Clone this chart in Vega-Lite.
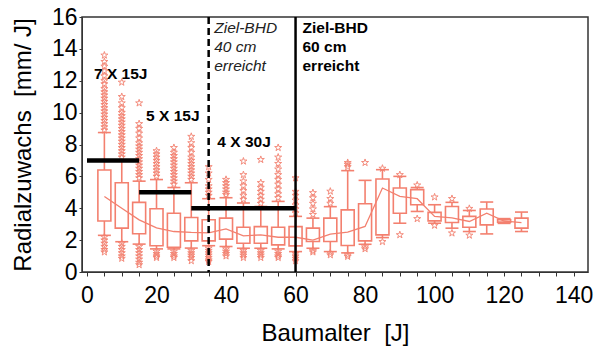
{
  "$schema": "https://vega.github.io/schema/vega-lite/v6.json",
  "width": 506,
  "height": 255,
  "autosize": {"type": "none"},
  "padding": {"left": 82, "top": 17, "right": 12, "bottom": 91},
  "background": "white",
  "config": {
    "font": "Liberation Sans",
    "view": {"stroke": "#333333", "strokeWidth": 1.5},
    "axis": {"grid": false, "domainColor": "#333333", "tickColor": "#333333", "labelColor": "black", "titleColor": "black", "labelFont": "Liberation Sans", "titleFont": "Liberation Sans", "labelFontWeight": "normal", "titleFontWeight": "normal"},
    "axisY": {
      "values": [0,1,2,3,4,5,6,7,8,9,10,11,12,13,14,15,16],
      "labelExpr": "datum.value % 2 === 0 ? datum.label : ''",
      "labelFontSize": 23, "labelPadding": 2, "tickSize": 3, "labelOverlap": false, "labelFlush": false,
      "titleFontSize": 24, "titlePadding": 16
    }
  },
  "datasets": {
    "boxes": [
      {"x": 5, "lo": 2.3, "q1": 3.2, "med": 4.74, "q3": 6.4, "hi": 8.75},
      {"x": 10, "lo": 1.9, "q1": 2.75, "med": 4.0, "q3": 5.6, "hi": 7.0},
      {"x": 15, "lo": 1.75, "q1": 2.4, "med": 3.27, "q3": 4.37, "hi": 5.7},
      {"x": 20, "lo": 1.45, "q1": 1.65, "med": 2.77, "q3": 3.97, "hi": 5.8},
      {"x": 25, "lo": 1.45, "q1": 1.55, "med": 2.54, "q3": 3.69, "hi": 5.3},
      {"x": 30, "lo": 1.5, "q1": 1.95, "med": 2.48, "q3": 3.42, "hi": 5.6},
      {"x": 35, "lo": 1.65, "q1": 1.95, "med": 2.45, "q3": 3.28, "hi": 4.6},
      {"x": 40, "lo": 1.6, "q1": 2.06, "med": 2.7, "q3": 3.38, "hi": 4.66},
      {"x": 45, "lo": 1.49, "q1": 1.8, "med": 2.27, "q3": 2.81, "hi": 4.33},
      {"x": 50, "lo": 1.49, "q1": 1.8, "med": 2.33, "q3": 2.85, "hi": 4.11},
      {"x": 55, "lo": 1.45, "q1": 1.7, "med": 2.18, "q3": 2.81, "hi": 4.43},
      {"x": 60, "lo": 1.28, "q1": 1.64, "med": 2.18, "q3": 2.85, "hi": 3.49},
      {"x": 65, "lo": 1.49, "q1": 1.91, "med": 2.0, "q3": 2.75, "hi": 3.38},
      {"x": 70, "lo": 1.28, "q1": 1.91, "med": 2.37, "q3": 3.38, "hi": 4.1},
      {"x": 75, "lo": 1.2, "q1": 1.66, "med": 2.5, "q3": 3.9, "hi": 6.36},
      {"x": 80, "lo": 1.74, "q1": 1.95, "med": 2.86, "q3": 4.28, "hi": 5.75},
      {"x": 85, "lo": 2.16, "q1": 2.33, "med": 5.27, "q3": 5.84, "hi": 6.42},
      {"x": 90, "lo": 3.06, "q1": 3.69, "med": 4.74, "q3": 5.27, "hi": 6.0},
      {"x": 95, "lo": 3.8, "q1": 4.22, "med": 4.6, "q3": 5.17, "hi": 5.3},
      {"x": 100, "lo": 3.06, "q1": 3.21, "med": 3.49, "q3": 3.74, "hi": 4.22},
      {"x": 105, "lo": 2.75, "q1": 3.11, "med": 3.4, "q3": 4.11, "hi": 4.37},
      {"x": 110, "lo": 2.54, "q1": 2.81, "med": 3.17, "q3": 3.49, "hi": 3.86},
      {"x": 115, "lo": 2.39, "q1": 2.96, "med": 3.69, "q3": 3.95, "hi": 4.39},
      {"x": 120, "lo": 3.05, "q1": 3.13, "med": 3.2, "q3": 3.28, "hi": 3.35},
      {"x": 125, "lo": 2.54, "q1": 2.75, "med": 3.1, "q3": 3.38, "hi": 3.76}
    ],
    "outliers": [
      {"x": 5, "y": 8.9}, {"x": 5, "y": 9.1}, {"x": 5, "y": 9.3}, {"x": 5, "y": 9.5}, {"x": 5, "y": 9.7}, {"x": 5, "y": 9.9}, {"x": 5, "y": 10.1}, {"x": 5, "y": 10.3}, {"x": 5, "y": 10.5}, {"x": 5, "y": 10.7}, {"x": 5, "y": 10.9}, {"x": 5, "y": 11.1}, {"x": 5, "y": 11.3}, {"x": 5, "y": 11.5}, {"x": 5, "y": 11.8}, {"x": 5, "y": 12.0}, {"x": 5, "y": 12.3}, {"x": 5, "y": 12.6}, {"x": 5, "y": 12.9}, {"x": 5, "y": 13.2}, {"x": 5, "y": 13.6},
      {"x": 5, "y": 2.2}, {"x": 5, "y": 2.0}, {"x": 5, "y": 1.8}, {"x": 5, "y": 1.6}, {"x": 5, "y": 1.4}, {"x": 5, "y": 1.25},
      {"x": 10, "y": 7.2}, {"x": 10, "y": 7.4}, {"x": 10, "y": 7.6}, {"x": 10, "y": 7.8}, {"x": 10, "y": 8.0}, {"x": 10, "y": 8.2}, {"x": 10, "y": 8.4}, {"x": 10, "y": 8.6}, {"x": 10, "y": 8.8}, {"x": 10, "y": 9.0}, {"x": 10, "y": 9.2}, {"x": 10, "y": 9.4}, {"x": 10, "y": 9.6}, {"x": 10, "y": 9.8}, {"x": 10, "y": 10.0}, {"x": 10, "y": 10.3}, {"x": 10, "y": 10.6}, {"x": 10, "y": 11.0}, {"x": 10, "y": 11.9},
      {"x": 10, "y": 1.8}, {"x": 10, "y": 1.6}, {"x": 10, "y": 1.4}, {"x": 10, "y": 1.2}, {"x": 10, "y": 1.0}, {"x": 10, "y": 0.85},
      {"x": 15, "y": 5.9}, {"x": 15, "y": 6.1}, {"x": 15, "y": 6.3}, {"x": 15, "y": 6.5}, {"x": 15, "y": 6.7}, {"x": 15, "y": 6.9}, {"x": 15, "y": 7.1}, {"x": 15, "y": 7.3}, {"x": 15, "y": 7.5}, {"x": 15, "y": 7.7}, {"x": 15, "y": 7.9}, {"x": 15, "y": 8.1}, {"x": 15, "y": 8.4}, {"x": 15, "y": 8.7}, {"x": 15, "y": 9.0}, {"x": 15, "y": 9.3}, {"x": 15, "y": 10.6},
      {"x": 15, "y": 1.6}, {"x": 15, "y": 1.4}, {"x": 15, "y": 1.2}, {"x": 15, "y": 1.0}, {"x": 15, "y": 0.8}, {"x": 15, "y": 0.6}, {"x": 15, "y": 0.45},
      {"x": 20, "y": 6.0}, {"x": 20, "y": 6.2}, {"x": 20, "y": 6.4}, {"x": 20, "y": 6.6}, {"x": 20, "y": 6.8}, {"x": 20, "y": 7.0}, {"x": 20, "y": 7.2}, {"x": 20, "y": 7.4}, {"x": 20, "y": 7.6},
      {"x": 20, "y": 1.3}, {"x": 20, "y": 1.15}, {"x": 20, "y": 1.0}, {"x": 20, "y": 0.9},
      {"x": 25, "y": 5.5}, {"x": 25, "y": 5.7}, {"x": 25, "y": 5.9}, {"x": 25, "y": 6.1}, {"x": 25, "y": 6.3}, {"x": 25, "y": 6.5}, {"x": 25, "y": 6.7}, {"x": 25, "y": 6.9}, {"x": 25, "y": 7.1}, {"x": 25, "y": 7.3}, {"x": 25, "y": 7.5}, {"x": 25, "y": 7.8},
      {"x": 25, "y": 1.3}, {"x": 25, "y": 1.15}, {"x": 25, "y": 1.0}, {"x": 25, "y": 0.9},
      {"x": 30, "y": 5.8}, {"x": 30, "y": 6.0}, {"x": 30, "y": 6.2}, {"x": 30, "y": 6.4}, {"x": 30, "y": 6.6}, {"x": 30, "y": 6.8}, {"x": 30, "y": 7.0}, {"x": 30, "y": 7.2}, {"x": 30, "y": 7.5}, {"x": 30, "y": 7.8}, {"x": 30, "y": 8.1}, {"x": 30, "y": 8.5},
      {"x": 30, "y": 1.35}, {"x": 30, "y": 1.2}, {"x": 30, "y": 1.05}, {"x": 30, "y": 0.9}, {"x": 30, "y": 0.7},
      {"x": 35, "y": 4.8}, {"x": 35, "y": 5.0}, {"x": 35, "y": 5.2}, {"x": 35, "y": 5.4}, {"x": 35, "y": 5.8}, {"x": 35, "y": 6.2}, {"x": 35, "y": 6.6},
      {"x": 35, "y": 1.5}, {"x": 35, "y": 1.35}, {"x": 35, "y": 1.2}, {"x": 35, "y": 1.05}, {"x": 35, "y": 0.9}, {"x": 35, "y": 0.75}, {"x": 35, "y": 0.65},
      {"x": 40, "y": 4.85}, {"x": 40, "y": 5.0}, {"x": 40, "y": 5.2}, {"x": 40, "y": 5.4}, {"x": 40, "y": 5.6}, {"x": 40, "y": 5.8},
      {"x": 40, "y": 1.45}, {"x": 40, "y": 1.3}, {"x": 40, "y": 1.15}, {"x": 40, "y": 1.0},
      {"x": 45, "y": 4.55}, {"x": 45, "y": 4.8}, {"x": 45, "y": 5.1}, {"x": 45, "y": 5.4}, {"x": 45, "y": 5.7}, {"x": 45, "y": 6.1}, {"x": 45, "y": 6.95},
      {"x": 45, "y": 1.35}, {"x": 45, "y": 1.2}, {"x": 45, "y": 1.05}, {"x": 45, "y": 0.9},
      {"x": 50, "y": 4.3}, {"x": 50, "y": 4.55}, {"x": 50, "y": 4.8}, {"x": 50, "y": 5.05}, {"x": 50, "y": 5.3}, {"x": 50, "y": 5.6}, {"x": 50, "y": 7.05},
      {"x": 50, "y": 1.35}, {"x": 50, "y": 1.2}, {"x": 50, "y": 1.05}, {"x": 50, "y": 0.9},
      {"x": 55, "y": 4.65}, {"x": 55, "y": 4.9}, {"x": 55, "y": 5.2}, {"x": 55, "y": 5.5}, {"x": 55, "y": 5.8}, {"x": 55, "y": 6.1}, {"x": 55, "y": 6.45}, {"x": 55, "y": 6.8}, {"x": 55, "y": 7.2}, {"x": 55, "y": 7.8},
      {"x": 55, "y": 1.3}, {"x": 55, "y": 1.15}, {"x": 55, "y": 1.0}, {"x": 55, "y": 0.9},
      {"x": 60, "y": 3.7}, {"x": 60, "y": 3.95}, {"x": 60, "y": 4.2}, {"x": 60, "y": 4.5}, {"x": 60, "y": 4.8}, {"x": 60, "y": 5.05}, {"x": 60, "y": 5.9},
      {"x": 60, "y": 1.15}, {"x": 60, "y": 1.0}, {"x": 60, "y": 0.85}, {"x": 60, "y": 0.7},
      {"x": 65, "y": 3.6}, {"x": 65, "y": 3.95}, {"x": 65, "y": 4.3}, {"x": 65, "y": 4.65}, {"x": 65, "y": 4.97},
      {"x": 65, "y": 1.35}, {"x": 65, "y": 1.25},
      {"x": 70, "y": 4.3}, {"x": 70, "y": 4.6}, {"x": 70, "y": 5.06},
      {"x": 70, "y": 1.2}, {"x": 70, "y": 1.07},
      {"x": 75, "y": 6.6}, {"x": 75, "y": 6.75}, {"x": 75, "y": 6.86},
      {"x": 75, "y": 1.07}, {"x": 75, "y": 0.97},
      {"x": 80, "y": 6.86}, {"x": 80, "y": 1.57}, {"x": 80, "y": 1.45},
      {"x": 85, "y": 6.5}, {"x": 85, "y": 1.9},
      {"x": 90, "y": 6.1}, {"x": 90, "y": 2.33},
      {"x": 95, "y": 5.45}, {"x": 95, "y": 3.34},
      {"x": 100, "y": 4.7}, {"x": 100, "y": 2.92},
      {"x": 105, "y": 4.6}, {"x": 105, "y": 2.44},
      {"x": 110, "y": 3.98}, {"x": 110, "y": 2.3}
    ],
    "targets": [
      {"x": 0, "x2": 15, "y": 7},
      {"x": 15, "x2": 30, "y": 5},
      {"x": 30, "x2": 60, "y": 4}
    ],
    "boldText": [
      {"x": 2.0, "y": 12.45, "t": "7 X 15J"},
      {"x": 17.0, "y": 9.8, "t": "5 X 15J"},
      {"x": 37.5, "y": 8.15, "t": "4 X 30J"},
      {"x": 62.0, "y": 15.31, "t": "Ziel-BHD"},
      {"x": 62.0, "y": 14.11, "t": "60 cm"},
      {"x": 62.0, "y": 12.91, "t": "erreicht"}
    ],
    "italicText": [
      {"x": 36.6, "y": 15.31, "t": "Ziel-BHD"},
      {"x": 36.6, "y": 14.11, "t": "40 cm"},
      {"x": 36.6, "y": 12.91, "t": "erreicht"}
    ]
  },
  "encoding": {
    "x": {
      "field": "x", "type": "quantitative",
      "scale": {"domain": [0, 142.7], "nice": false, "zero": false},
      "axis": {
        "title": "Baumalter\u00a0 [J]", "titleFontSize": 24, "titlePadding": 14,
        "values": [0,5,10,15,20,25,30,35,40,45,50,55,60,65,70,75,80,85,90,95,100,105,110,115,120,125,130,135,140],
        "labelExpr": "datum.value % 20 === 0 ? datum.label : ''",
        "labelFontSize": 23, "labelPadding": 8, "tickSize": 4, "labelFlush": false, "labelOverlap": false
      }
    }
  },
  "layer": [
    {
      "data": {"name": "boxes"},
      "mark": {"type": "rule", "color": "#f3806f", "strokeWidth": 1.6},
      "encoding": {"y": {"field": "q3", "type": "quantitative", "title": "Radialzuwachs\u00a0 [mm/ J]", "scale": {"domain": [0, 16], "nice": false}}, "y2": {"field": "hi"}}
    },
    {
      "data": {"name": "boxes"},
      "mark": {"type": "rule", "color": "#f3806f", "strokeWidth": 1.6},
      "encoding": {"y": {"field": "lo", "type": "quantitative", "title": "Radialzuwachs\u00a0 [mm/ J]"}, "y2": {"field": "q1"}}
    },
    {
      "data": {"name": "boxes"},
      "mark": {"type": "tick", "orient": "horizontal", "color": "#f3806f", "size": 13, "thickness": 1.6, "opacity": 1},
      "encoding": {"y": {"field": "hi", "type": "quantitative", "title": "Radialzuwachs\u00a0 [mm/ J]"}}
    },
    {
      "data": {"name": "boxes"},
      "mark": {"type": "tick", "orient": "horizontal", "color": "#f3806f", "size": 13, "thickness": 1.6, "opacity": 1},
      "encoding": {"y": {"field": "lo", "type": "quantitative", "title": "Radialzuwachs\u00a0 [mm/ J]"}}
    },
    {
      "data": {"name": "boxes"},
      "mark": {"type": "bar", "size": 13, "fill": "white", "fillOpacity": 0, "stroke": "#f3806f", "strokeWidth": 1.6},
      "encoding": {"y": {"field": "q1", "type": "quantitative", "title": "Radialzuwachs\u00a0 [mm/ J]"}, "y2": {"field": "q3"}}
    },
    {
      "data": {"name": "boxes"},
      "mark": {"type": "line", "color": "#f3806f", "strokeWidth": 1.3},
      "encoding": {"y": {"field": "med", "type": "quantitative", "title": "Radialzuwachs\u00a0 [mm/ J]"}}
    },
    {
      "data": {"name": "outliers"},
      "mark": {"type": "point", "shape": "M0,-1L0.2245,-0.309L0.951,-0.309L0.363,0.118L0.588,0.809L0,0.382L-0.588,0.809L-0.363,0.118L-0.951,-0.309L-0.2245,-0.309Z", "size": 55, "filled": false, "stroke": "#f3806f", "strokeWidth": 1, "opacity": 0.9},
      "encoding": {"y": {"field": "y", "type": "quantitative", "title": "Radialzuwachs\u00a0 [mm/ J]"}}
    },
    {
      "data": {"name": "targets"},
      "mark": {"type": "rule", "color": "black", "strokeWidth": 4.5},
      "encoding": {"x2": {"field": "x2"}, "y": {"field": "y", "type": "quantitative", "title": "Radialzuwachs\u00a0 [mm/ J]"}}
    },
    {
      "data": {"values": [{"x": 35}]},
      "mark": {"type": "rule", "color": "black", "strokeWidth": 2.5, "strokeDash": [7, 4]},
      "encoding": {}
    },
    {
      "data": {"values": [{"x": 60}]},
      "mark": {"type": "rule", "color": "black", "strokeWidth": 2.5},
      "encoding": {}
    },
    {
      "data": {"name": "boldText"},
      "mark": {"type": "text", "align": "left", "baseline": "middle", "fontSize": 15.5, "fontWeight": "bold", "color": "black"},
      "encoding": {"y": {"field": "y", "type": "quantitative", "title": "Radialzuwachs\u00a0 [mm/ J]"}, "text": {"field": "t"}}
    },
    {
      "data": {"name": "italicText"},
      "mark": {"type": "text", "align": "left", "baseline": "middle", "fontSize": 15.5, "fontStyle": "italic", "color": "#222222"},
      "encoding": {"y": {"field": "y", "type": "quantitative", "title": "Radialzuwachs\u00a0 [mm/ J]"}, "text": {"field": "t"}}
    }
  ],
  "resolve": {"scale": {"y": "shared"}}
}
